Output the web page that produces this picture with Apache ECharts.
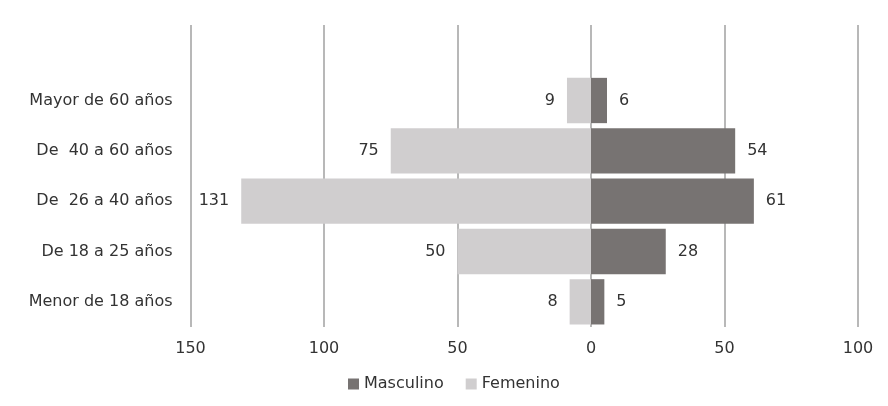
<!DOCTYPE html>
<html><head><meta charset="utf-8">
<script src="https://cdn.jsdelivr.net/npm/echarts@6/dist/echarts.min.js"></script>
<style>html,body{margin:0;padding:0;background:#fff}#c{width:888px;height:406px}</style>
</head><body><div id="c"></div>
<script>
const categories = ['Menor de 18 años','De 18 a 25 años','De  26 a 40 años','De  40 a 60 años','Mayor de 60 años',''];
const masculino = [5, 28, 61, 54, 6];
const femenino = [8, 50, 131, 75, 9];
const xTicks = {min: -150, max: 100, interval: 50};

const font = '"DejaVu Sans", Verdana, sans-serif';
const fs = 16;
const chart = echarts.init(document.getElementById('c'));
chart.setOption({
  animation: false,
  textStyle: {fontFamily: font},
  grid: {left: 190.5, right: 30, top: 25, bottom: 79, containLabel: false},
  legend: {
    data: ['Masculino', 'Femenino'], bottom: 9, left: 343,
    itemWidth: 11, itemHeight: 11, itemGap: 22, icon: 'rect',
    textStyle: {fontFamily: font, fontSize: fs, color: '#333'}
  },
  xAxis: {
    type: 'value', min: xTicks.min, max: xTicks.max, interval: xTicks.interval,
    axisLine: {show: false}, axisTick: {show: false},
    splitLine: {show: true, lineStyle: {color: '#a0a0a0', width: 1.5}},
    axisLabel: {formatter: v => Math.abs(v), fontFamily: font, fontSize: fs, color: '#333', margin: 14}
  },
  yAxis: {
    type: 'category', data: categories,
    axisLine: {show: false}, axisTick: {show: false},
    axisLabel: {fontFamily: font, fontSize: fs, color: '#333', margin: 18}
  },
  series: [
    {
      name: 'Masculino', type: 'bar', data: masculino,
      barGap: '-100%', barCategoryGap: '10%',
      itemStyle: {color: '#777372'},
      label: {show: true, position: 'right', distance: 12, fontFamily: font, fontSize: fs, color: '#333'}
    },
    {
      name: 'Femenino', type: 'bar', data: femenino.map(v => -v),
      barGap: '-100%', barCategoryGap: '10%',
      itemStyle: {color: '#d0cecf'},
      label: {show: true, position: 'left', distance: 12, formatter: p => Math.abs(p.value), fontFamily: font, fontSize: fs, color: '#333'}
    }
  ]
});
</script></body></html>
